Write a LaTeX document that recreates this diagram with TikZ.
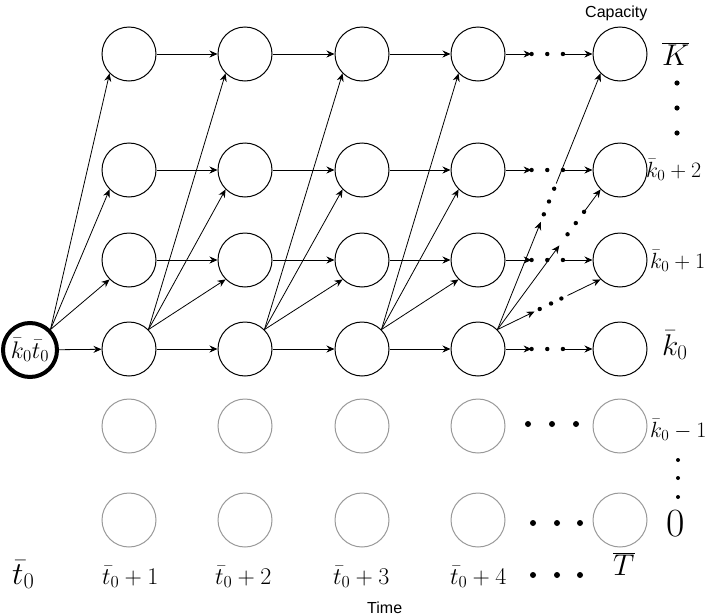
\documentclass[tikz,border=0pt]{standalone}
\usepackage{fix-cm}
\usepackage{fontspec}
\newfontfamily\labelfont{Liberation Sans}
\usetikzlibrary{arrows.meta,
                calc}

\begin{document}
\begin{tikzpicture}[x=1pt, y=-1pt,
state/.style = {circle, draw, line width=1pt, minimum size=54pt, inner sep=0pt},
faded/.style = {state, draw=black!40},
flow/.style  = {draw, -{Stealth[length=8pt,width=7pt]}, line width=0.8pt},
lab/.style   = {anchor=base west, inner sep=0pt, font=\fontsize{22}{24}\selectfont},
biglab/.style = {anchor=base west, inner sep=0pt, font=\fontsize{30}{32}\selectfont},
axis/.style  = {anchor=base west, inner sep=0pt, font=\labelfont\fontsize{16}{18}\selectfont}
                    ]
\useasboundingbox (0,0) rectangle (710,616);
% start node and grid
\node[state, line width=4pt] (s) at (30,350) {\fontsize{24}{26}\selectfont$\bar{k}_0\bar{t}_0$};
\foreach \c/\x in {1/129, 2/245, 3/362, 4/478, 5/620}
  {
  \foreach \r/\y in {1/54, 2/170, 3/260, 4/349}
    \node[state] (n\c\r) at (\x,\y) {};
  \foreach \r/\y in {5/426, 6/520}
    \node[faded] (n\c\r) at (\x,\y) {};
  }
%
\draw[flow] (s) -- (n14);
\foreach \r in {1,2,3}
    \draw[flow] (s.north east) -- (n1\r.south west);
\foreach \c/\d in {1/2, 2/3, 3/4}
  {
  \foreach \r in {1,2,3,4}
    \draw[flow] (n\c\r) -- (n\d\r);
  \foreach \r in {1,2,3}
    \draw[flow] (n\c4.north east) -- (n\d\r.south west);
  }
% broken links to the last column
\foreach \r in {1,2,3,4}
  {
  \draw[flow] (n4\r) -- ($(n4\r.east)!.3!(n5\r.west)$);
  \foreach \t in {.3,.48,.66}
    \fill ($(n4\r.east)!\t!(n5\r.west)$) circle[radius=2.2pt];
  \draw[flow] ($(n4\r.east)!.66!(n5\r.west)$) -- (n5\r);
  }
\foreach \r/\a/\p/\q/\u/\b in {1/.42/.45/.5/.55/.57, 2/.6/.68/.76/.84/.84, 3/.36/.41/.52/.62/.68}
  {
  \draw[flow] (n44.north east) -- ($(n44.north east)!\a!(n5\r.south west)$);
  \foreach \t in {\p,\q,\u}
    \fill ($(n44.north east)!\t!(n5\r.south west)$) circle[radius=2.2pt];
  \draw[flow] ($(n44.north east)!\b!(n5\r.south west)$) -- (n5\r.south west);
  }
\foreach \x in {528,552,576} \fill (\x,424) circle[radius=3pt];
\foreach \x in {533,557,580} \fill (\x,523) circle[radius=3pt];
\foreach \x in {533,557,580} \fill (\x,575) circle[radius=3pt];
\foreach \y in {83,108,133} \fill (677,\y) circle[radius=2.6pt];
\foreach \y in {460,478,497} \fill (678,\y) circle[radius=2pt];
% capacity labels
\node[biglab] (kmax) at (662,65) {$\overline{K}$};
\node[lab] (k2) at (646,177) {$\bar{k}_0+2$};
\node[lab] (k1) at (650,268) {$\bar{k}_0+1$};
\node[biglab] (k0) at (662,355) {$\bar{k}_0$};
\node[lab] (km) at (650,437) {$\bar{k}_0-1$};
\node[anchor=base west, inner sep=0pt, font=\fontsize{40}{42}\selectfont] (kz) at (666,536) {$0$};
% time labels
\node[lab, font=\fontsize{32}{34}\selectfont] (t0) at (12,584) {$\bar{t}_0$};
\node[lab, font=\fontsize{24}{26}\selectfont] (t1) at (102,584) {$\bar{t}_0+1$};
\node[lab, font=\fontsize{24}{26}\selectfont] (t2) at (215,584) {$\bar{t}_0+2$};
\node[lab, font=\fontsize{24}{26}\selectfont] (t3) at (333,584) {$\bar{t}_0+3$};
\node[lab, font=\fontsize{24}{26}\selectfont] (t4) at (450,584) {$\bar{t}_0+4$};
\node[biglab] (tmax) at (613,575) {$\overline{T}$};
\node[axis] (cap) at (585,17) {Capacity};
\node[axis] (time) at (367,613) {Time};
\end{tikzpicture}
\end{document}
